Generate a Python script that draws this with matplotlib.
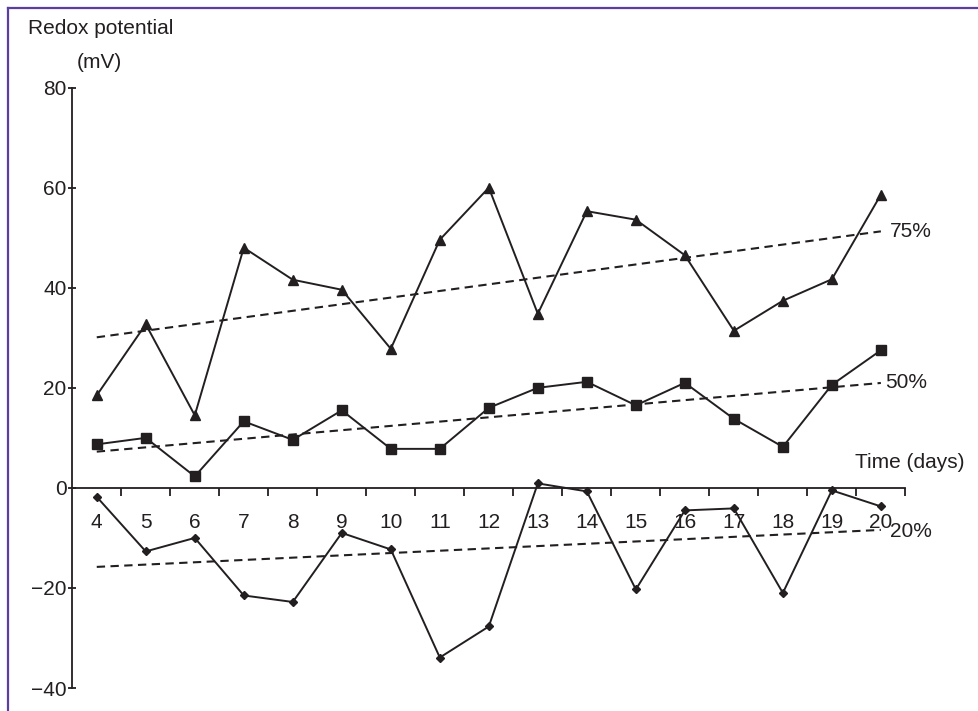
import numpy as np
import matplotlib
matplotlib.use("Agg")
import matplotlib.pyplot as plt
from matplotlib.lines import Line2D

plt.rcParams["font.family"] = ["Liberation Sans", "DejaVu Sans"]

days = [4, 5, 6, 7, 8, 9, 10, 11, 12, 13, 14, 15, 16, 17, 18, 19, 20]
# redox potential (mV) for the three moisture levels
pct75 = [18.5, 32.7, 14.5, 48.0, 41.6, 39.6, 27.8, 49.6, 60.0, 34.8, 55.3, 53.6, 46.5, 31.4, 37.4, 41.7, 58.6]
pct50 = [8.7, 10.0, 2.3, 13.3, 9.6, 15.5, 7.8, 7.8, 16.0, 20.0, 21.2, 16.5, 21.0, 13.8, 8.2, 20.6, 27.5]
pct20 = [-1.8, -12.7, -10.0, -21.5, -22.8, -9.0, -12.3, -33.9, -27.7, 0.9, -0.7, -20.3, -4.5, -4.1, -21.0, -0.5, -3.7]
series_labels = ["75%", "50%", "20%"]
y_ticks = [-40, -20, 0, 20, 40, 60, 80]

ink = "#231f20"
fs = 15

fig = plt.figure(figsize=(9.79, 7.11), dpi=100)
ax = fig.add_axes([0.0738, 0.0323, 0.8510, 0.8445])

x = np.array(days)
markers = ["^", "s", "D"]
sizes = [7.5, 7.5, 4.5]
label_offsets = [0.19, 0.09, 0.19]
for vals, mk, ms, lab, off in zip([pct75, pct50, pct20], markers, sizes, series_labels, label_offsets):
    ax.plot(x, vals, color=ink, lw=1.4, marker=mk, ms=ms, clip_on=False, zorder=3)
    slope, icpt = np.polyfit(x, vals, 1)
    fit = slope * x + icpt
    ax.plot(x, fit, color=ink, lw=1.5, linestyle=(0, (4, 2.6)), zorder=2)
    dy = -0.4 if lab == "20%" else 0
    ax.text(x[-1] + off, fit[-1] + dy, lab, fontsize=fs, color=ink, ha="left", va="center")

ax.set_xlim(3.5, 20.5)
ax.set_ylim(-40, 80)

for s in ["top", "right"]:
    ax.spines[s].set_visible(False)
ax.spines["bottom"].set_position(("data", 0))
ax.spines["left"].set_color(ink)
ax.spines["bottom"].set_color(ink)
ax.spines["left"].set_linewidth(1.3)
ax.spines["bottom"].set_linewidth(1.3)

ax.set_xticks(days)
ax.set_xticklabels([str(d) for d in days])
ax.set_xticks(np.arange(4.5, 21, 1), minor=True)
ax.tick_params(axis="x", which="major", length=0, pad=18, labelsize=fs, colors=ink)
ax.tick_params(axis="x", which="minor", length=6, width=1.3, direction="out", color=ink)

ax.set_yticks(y_ticks)
ax.tick_params(axis="y", which="major", length=6, width=1.3, direction="inout", labelsize=fs, colors=ink, pad=1)

fig.text(101 / 979, 1 - 29 / 711, "Redox potential", fontsize=fs, color=ink, ha="center", va="center")
fig.text(99 / 979, 1 - 62 / 711, "(mV)", fontsize=fs, color=ink, ha="center", va="center")
fig.text(965 / 979, 1 - 462 / 711, "Time (days)", fontsize=fs, color=ink, ha="right", va="center")

# purple frame (top and left only)
frame = "#5a3ea0"
fig.add_artist(Line2D([8 / 979, 8 / 979], [0, 1 - 8 / 711], color=frame, lw=1.6, transform=fig.transFigure))
fig.add_artist(Line2D([8 / 979, 1], [1 - 8 / 711, 1 - 8 / 711], color=frame, lw=1.6, transform=fig.transFigure))

fig.savefig("out.png", dpi=100)
